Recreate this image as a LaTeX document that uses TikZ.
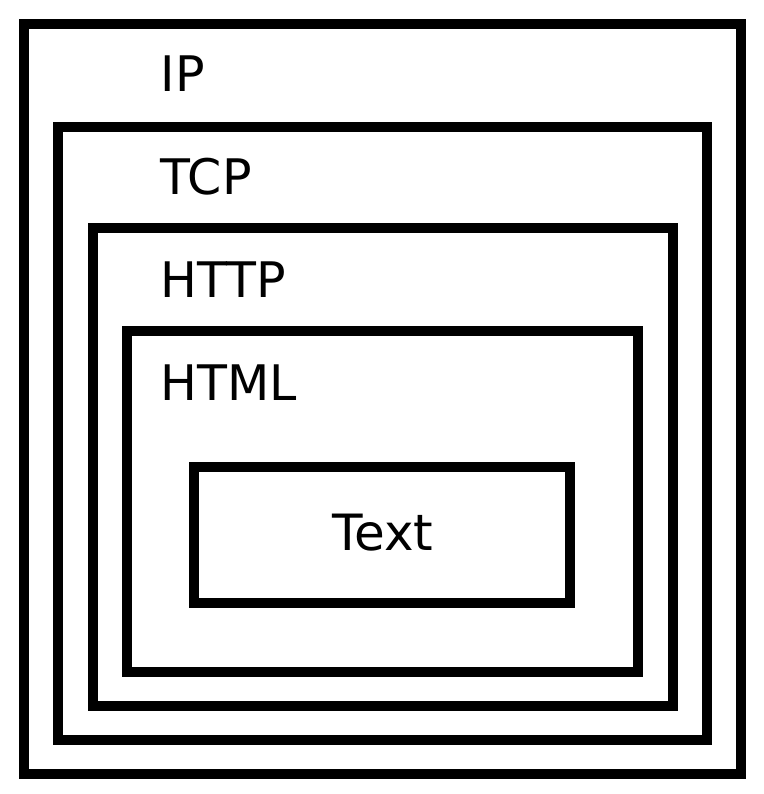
\documentclass[tikz,border=0pt]{standalone}
\usepackage{fontspec}
\setmainfont{DejaVu Sans}
\begin{document}
\begin{tikzpicture}[x=1pt,y=-1pt,
  layer/.style={draw=black,line width=10pt,fill=none},
  lbl/.style={anchor=base west,inner sep=0pt,font=\fontsize{49}{59}\selectfont}]
\useasboundingbox[fill=white] (0,0) rectangle (763,794);
\draw[layer] (24,24) rectangle (741,774);
\draw[layer] (58.3,126.7) rectangle (706.7,739.7);
\draw[layer] (92.7,228.3) rectangle (672.5,705.8);
\draw[layer] (126.7,330.7) rectangle (638.3,671.7);
\node[layer,minimum width=375.7pt,minimum height=136pt,inner sep=0pt] (text) at (382.2,535.3) {};
\node[inner sep=0pt,anchor=base,font=\fontsize{50}{60}\selectfont] (textlbl) at (382.7,550.7) {Text};
\node[lbl] (ip) at (160.5,92) {IP};
\node[lbl] (tcp) at (160.5,195) {TCP};
\node[lbl] (http) at (160.5,297.5) {HTTP};
\node[lbl] (html) at (160.5,400) {HTML};
\end{tikzpicture}
\end{document}
